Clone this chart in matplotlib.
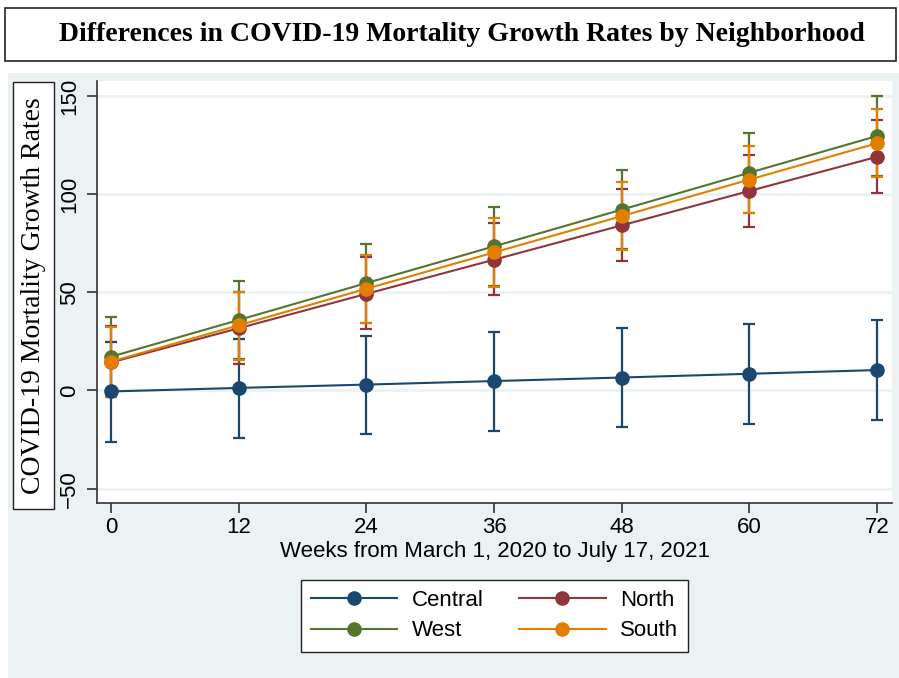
import numpy as np
import matplotlib.pyplot as plt
from matplotlib.patches import Rectangle

# %% data
weeks = [0, 12, 24, 36, 48, 60, 72]
groups = ['Central', 'North', 'West', 'South']
colors = ['#1a476f', '#90353b', '#55752f', '#e37e00']

central_est = [-0.5, 1.3, 3.0, 4.8, 6.6, 8.5, 10.4]
central_lo = [-26.4, -24.3, -22.3, -20.5, -18.6, -16.9, -15.0]
central_hi = [24.5, 26.2, 27.9, 29.8, 31.7, 33.9, 35.7]

north_est = [14.3, 31.7, 49.2, 66.6, 84.1, 101.6, 119.0]
north_lo = [-3.5, 13.6, 31.2, 48.5, 65.9, 83.4, 100.7]
north_hi = [32.8, 50.0, 67.8, 85.1, 102.6, 120.1, 137.6]

west_est = [17.2, 35.9, 54.7, 73.4, 92.1, 110.9, 129.6]
west_lo = [-2.9, 15.9, 34.6, 53.2, 71.9, 90.3, 109.1]
west_hi = [37.3, 55.9, 74.7, 93.6, 112.3, 131.3, 150.1]

south_est = [14.7, 33.2, 51.8, 70.3, 88.8, 107.4, 125.9]
south_lo = [-3.2, 15.5, 34.2, 52.9, 71.7, 90.2, 108.9]
south_hi = [32.5, 50.3, 69.0, 87.7, 106.2, 124.6, 143.3]

yticks = [-50, 0, 50, 100, 150]

series = [(central_est, central_lo, central_hi),
          (north_est, north_lo, north_hi),
          (west_est, west_lo, west_hi),
          (south_est, south_lo, south_hi)]

# %% figure
bg = '#eaf2f3'
fig = plt.figure(figsize=(8.99, 6.78), dpi=100)
fig.patch.set_facecolor('white')
fig.patches.append(Rectangle((8 / 899, 0), 891 / 899, 605 / 678,
                             transform=fig.transFigure, facecolor=bg,
                             edgecolor='none', zorder=-10))
# title box
fig.patches.append(Rectangle((5 / 899, 617 / 678), 891 / 899, 53 / 678,
                             transform=fig.transFigure, facecolor='white',
                             edgecolor='#222222', lw=1.2, zorder=-5))
fig.text(461.5 / 899, 643.5 / 678,
         'Differences in COVID-19 Mortality Growth Rates by Neighborhood',
         ha='center', va='center', fontsize=20, fontweight='bold',
         family='Liberation Serif')

ax = fig.add_axes([97 / 899, 175 / 678, 795 / 899, 422 / 678])
ax.set_facecolor('white')

x = np.array(weeks)
for (est, lo, hi), c in zip(series, colors):
    est, lo, hi = np.array(est), np.array(lo), np.array(hi)
    ax.errorbar(x, est, yerr=[est - lo, hi - est], fmt='none', ecolor=c,
                elinewidth=1.6, capsize=4, capthick=1.6, zorder=2)
handles = {}
for (est, lo, hi), c, g in zip(series, colors, groups):
    handles[g], = ax.plot(x, est, '-o', color=c, lw=1.5, ms=9.5, label=g,
                          zorder=3)

ax.set_xlim(-1.32, 73.4)
ax.set_ylim(-57.3, 157.6)
ax.set_xticks(weeks)
ax.set_yticks(yticks)
ax.grid(axis='y', color=bg, lw=2, zorder=0)
ax.set_axisbelow(True)
for s in ['top', 'right']:
    ax.spines[s].set_visible(False)
for s in ['left', 'bottom']:
    ax.spines[s].set_color('#333333')
    ax.spines[s].set_linewidth(1.2)
ax.tick_params(axis='both', direction='out', length=7, width=1.2,
               color='#333333', labelsize=16)
ax.tick_params(axis='x', pad=3)
ax.tick_params(axis='y', pad=5, labelrotation=90)
for lab in ax.get_yticklabels():
    lab.set_va('center')
for lab in ax.get_xticklabels() + ax.get_yticklabels():
    lab.set_family('Liberation Sans')
ax.set_xlabel('Weeks from March 1, 2020 to July 17, 2021', fontsize=16,
              family='Liberation Sans', labelpad=2)

# y label in its own box
fig.patches.append(Rectangle((13 / 899, 169 / 678), 41 / 899, 427 / 678,
                             transform=fig.transFigure, facecolor='white',
                             edgecolor='#222222', lw=1.0, zorder=-5))
fig.text(33.5 / 899, 382.5 / 678, 'COVID-19 Mortality Growth Rates',
         rotation=90, ha='center', va='center', fontsize=20,
         family='Liberation Serif')

# legend: rows Central/North, West/South (matplotlib fills by column)
order = ['Central', 'West', 'North', 'South']
leg = fig.legend([handles[g] for g in order], order, loc='center',
                 bbox_to_anchor=(494.5 / 899, 62.5 / 678),
                 ncol=2, handlelength=3.9, handletextpad=0.65,
                 columnspacing=1.6, labelspacing=0.45, borderpad=0.45,
                 fancybox=False, edgecolor='#222222', framealpha=1,
                 prop={'family': 'Liberation Sans', 'size': 16})
leg.get_frame().set_linewidth(1.0)

fig.savefig('out.png', dpi=100)
